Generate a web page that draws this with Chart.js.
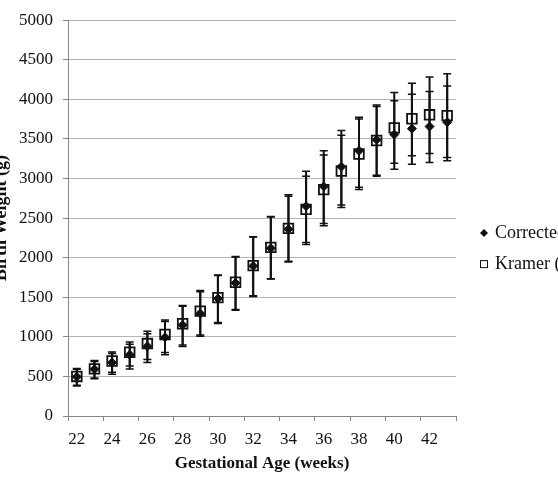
<!DOCTYPE html>
<html>
<head>
<meta charset="utf-8">
<script src="https://cdn.jsdelivr.net/npm/chart.js@4/dist/chart.umd.min.js"></script>
<style>
  html, body { margin: 0; padding: 0; background: #fff; overflow: hidden; }
  #wrap { width: 558px; height: 478px; position: relative; }
</style>
</head>
<body>
<div id="wrap"><canvas id="bwChart"></canvas></div>
<script>
// Data gelesen dari gambar
const weeks = ['22','23','24','25','26','27','28','29','30','31','32','33','34','35','36','37','38','39','40','41','42','43'];

const correctedMean = [495, 590, 675, 775, 880, 995, 1150, 1295, 1485, 1680, 1895, 2120, 2360, 2650, 2900, 3150, 3350, 3490, 3555, 3630, 3657, 3712];
const correctedLow  = [380, 470, 528, 595, 677, 773, 877, 1006, 1170, 1335, 1510, 1730, 1945, 2191, 2432, 2665, 2889, 3040, 3118, 3180, 3201, 3226];
const correctedHigh = [600, 700, 790, 906, 1039, 1195, 1385, 1570, 1775, 2010, 2260, 2515, 2775, 3093, 3351, 3608, 3775, 3930, 3982, 4065, 4099, 4169];

const kramerMean = [500, 595, 695, 805, 915, 1030, 1165, 1325, 1495, 1690, 1900, 2130, 2370, 2610, 2860, 3095, 3310, 3480, 3640, 3755, 3805, 3795];
const kramerLow  = [390, 480, 553, 632, 715, 802, 898, 1022, 1180, 1345, 1520, 1735, 1955, 2166, 2403, 2635, 2860, 3030, 3192, 3288, 3317, 3267];
const kramerHigh = [590, 690, 810, 935, 1072, 1214, 1395, 1585, 1780, 2015, 2265, 2520, 2795, 3030, 3296, 3546, 3753, 3910, 4087, 4203, 4281, 4323];

const seriesNames = ['Corrected data', 'Kramer (2001)'];
const yTicks = [0, 500, 1000, 1500, 2000, 2500, 3000, 3500, 4000, 4500, 5000];

const serif = '"Liberation Serif", "DejaVu Serif", serif';

// Error bar digambar dari skala chart
const errorBars = {
    id: 'errorBars',
    beforeDatasetsDraw(chart) {
        const ctx = chart.ctx;
        const y = chart.scales.y;
        const ranges = [[correctedLow, correctedHigh], [kramerLow, kramerHigh]];
        ctx.save();
        ctx.strokeStyle = '#111';
        ranges.forEach((r, d) => {
            const meta = chart.getDatasetMeta(d);
            meta.data.forEach((pt, i) => {
                const yLo = y.getPixelForValue(r[0][i]);
                const yHi = y.getPixelForValue(r[1][i]);
                ctx.lineWidth = 2;
                ctx.beginPath();
                ctx.moveTo(pt.x, yLo);
                ctx.lineTo(pt.x, yHi);
                ctx.stroke();
                ctx.lineWidth = 1.5;
                ctx.beginPath();
                ctx.moveTo(pt.x - 4, yLo);
                ctx.lineTo(pt.x + 4, yLo);
                ctx.moveTo(pt.x - 4, yHi);
                ctx.lineTo(pt.x + 4, yHi);
                ctx.stroke();
            });
        });
        ctx.restore();
    }
};

// Legenda di kanan (terpotong seperti aslinya)
const sideLegend = {
    id: 'sideLegend',
    afterDraw(chart) {
        const ctx = chart.ctx;
        const x0 = chart.chartArea.right + 28;
        const yMid = (chart.chartArea.top + chart.chartArea.bottom) / 2;
        const rows = [yMid + 15, yMid + 46];
        ctx.save();
        ctx.font = '18px ' + serif;
        ctx.textBaseline = 'middle';
        ctx.fillStyle = '#111';
        // diamond
        ctx.beginPath();
        ctx.moveTo(x0, rows[0] - 4);
        ctx.lineTo(x0 + 4, rows[0]);
        ctx.lineTo(x0, rows[0] + 4);
        ctx.lineTo(x0 - 4, rows[0]);
        ctx.closePath();
        ctx.fill();
        // square
        ctx.strokeStyle = '#111';
        ctx.lineWidth = 1;
        ctx.strokeRect(x0 - 3.5, rows[1] - 3.5, 7, 7);
        ctx.fillText(seriesNames[0], x0 + 11, rows[0]);
        ctx.fillText(seriesNames[1], x0 + 11, rows[1]);
        ctx.restore();
    }
};

document.addEventListener('DOMContentLoaded', function() {
    const ctx = document.getElementById('bwChart').getContext('2d');
    new Chart(ctx, {
        type: 'line',
        data: {
            labels: weeks,
            datasets: [
                {
                    label: seriesNames[0],
                    data: correctedMean,
                    showLine: false,
                    pointStyle: 'rectRot',
                    pointRadius: 4.5,
                    pointBackgroundColor: '#111',
                    pointBorderColor: '#111',
                    pointBorderWidth: 1
                },
                {
                    label: seriesNames[1],
                    data: kramerMean,
                    showLine: false,
                    pointStyle: 'rect',
                    pointRadius: 6.8,
                    pointBackgroundColor: 'rgba(0,0,0,0)',
                    pointBorderColor: '#111',
                    pointBorderWidth: 1.8
                }
            ]
        },
        options: {
            responsive: true,
            maintainAspectRatio: false,
            animation: false,
            layout: {
                padding: { top: 15, right: 102, bottom: 0, left: 0 }
            },
            plugins: {
                legend: { display: false },
                tooltip: { enabled: false }
            },
            scales: {
                x: {
                    type: 'category',
                    offset: true,
                    afterFit(scale) { scale.height = 62; },
                    grid: {
                        offset: true,
                        drawOnChartArea: false,
                        drawTicks: true,
                        tickLength: 5,
                        tickColor: c => (c.index === undefined || c.index % 2 === 0) ? '#888' : 'rgba(0,0,0,0)'
                    },
                    border: { color: '#888', width: 1 },
                    ticks: {
                        autoSkip: false,
                        maxRotation: 0,
                        padding: 8,
                        color: '#111',
                        font: { family: serif, size: 17 },
                        callback: function(v, i) { return i % 2 === 0 ? this.getLabelForValue(v) : ''; }
                    },
                    title: {
                        display: true,
                        text: 'Gestational Age (weeks)',
                        color: '#111',
                        font: { family: serif, size: 17, weight: 'bold' },
                        padding: { top: 0, bottom: 4 }
                    }
                },
                y: {
                    min: 0,
                    max: 5000,
                    afterFit(scale) { scale.width = 68; },
                    afterBuildTicks(scale) { scale.ticks = yTicks.map(v => ({ value: v })); },
                    grid: {
                        color: '#b4b4b4',
                        lineWidth: 1,
                        tickLength: 5,
                        tickColor: '#888'
                    },
                    border: { color: '#888', width: 1 },
                    ticks: {
                        padding: 10,
                        color: '#111',
                        font: { family: serif, size: 17 },
                        callback: v => String(v)
                    },
                    title: {
                        display: true,
                        text: 'Birth Weight (g)',
                        color: '#111',
                        font: { family: serif, size: 18, weight: 'bold' },
                        padding: { top: -9, bottom: 0 }
                    }
                }
            }
        },
        plugins: [errorBars, sideLegend]
    });
});
</script>
</body>
</html>
